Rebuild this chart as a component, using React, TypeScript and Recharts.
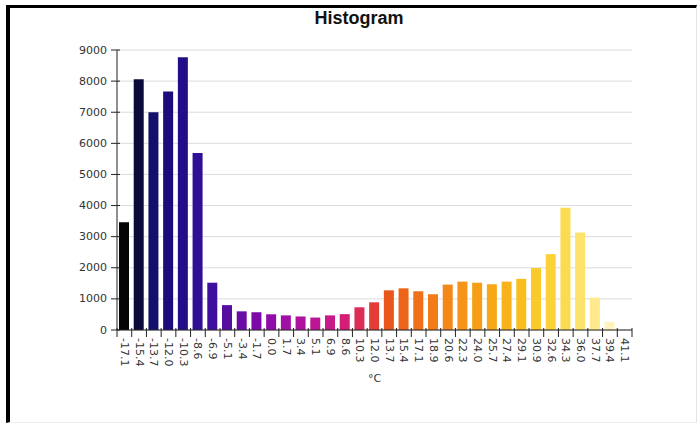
import { BarChart, Bar, Cell, XAxis, YAxis, CartesianGrid } from "recharts";

// bin centres (°C) and counts per bin
const binLabels = [
  "-17.1", "-15.4", "-13.7", "-12.0", "-10.3", "-8.6", "-6.9", "-5.1", "-3.4", "-1.7",
  "0.0", "1.7", "3.4", "5.1", "6.9", "8.6", "10.3", "12.0", "13.7", "15.4",
  "17.1", "18.9", "20.6", "22.3", "24.0", "25.7", "27.4", "29.1", "30.9", "32.6",
  "34.3", "36.0", "37.7", "39.4", "41.1",
];

const counts = [
  3460, 8060, 7000, 7670, 8770, 5690, 1520, 800, 600, 570,
  505, 470, 435, 400, 470, 510, 730, 890, 1275, 1340,
  1245, 1150, 1460, 1555, 1520, 1470, 1555, 1645, 1990, 2440,
  3930, 3130, 1040, 260, 0,
];

const barColors = [
  "#050507", "#0b0a38", "#12106a", "#1a0c7a", "#240d88", "#2e0f96", "#3e0e9c", "#560ea0", "#6a0ca6", "#7c0aa8",
  "#900ca8", "#a010a6", "#b012a0", "#bc1696", "#c81a88", "#d41e76", "#dc2c5a", "#e33c36", "#e8561c", "#ec6418",
  "#ef7018", "#f17c18", "#f38818", "#f59418", "#f69e16", "#f7a816", "#f8b21a", "#f9be1e", "#fac92a", "#fbd338",
  "#fcdc4e", "#fde36c", "#fee98e", "#fff2bc", "#fff8e0",
];

const yTicks = [0, 1000, 2000, 3000, 4000, 5000, 6000, 7000, 8000, 9000];

const data = binLabels.map((bin, i) => ({ bin, count: counts[i] }));

const W = 699;
const H = 425;
const margin = { top: 50, right: 67, bottom: 35, left: 57 };
const yAxisWidth = 60;
const xAxisHeight = 60;
const plotWidth = W - margin.left - margin.right - yAxisWidth;
const band = plotWidth / binLabels.length;

const font = "'DejaVu Sans', Verdana, sans-serif";

const YTick = (props: any) => {
  const { x, y, payload } = props;
  return (
    <g>
      <line x1={x - 4} x2={x + 5} y1={y} y2={y} stroke="#222" />
      <text
        x={x - 8}
        y={y}
        textAnchor="end"
        dominantBaseline="central"
        fontSize={11}
        fontFamily={font}
        fill="#333"
      >
        {payload.value}
      </text>
    </g>
  );
};

const XTick = (props: any) => {
  const { x, y, payload } = props;
  const last = payload.value === binLabels[binLabels.length - 1];
  return (
    <g>
      <line x1={x - band / 2} x2={x - band / 2} y1={y - 4} y2={y + 5} stroke="#222" />
      {last && <line x1={x + band / 2} x2={x + band / 2} y1={y - 4} y2={y + 5} stroke="#222" />}
      <text
        transform={`translate(${x},${y + 6}) rotate(90)`}
        textAnchor="start"
        dominantBaseline="central"
        fontSize={11}
        fontFamily={font}
        fill="#333"
      >
        {payload.value}
      </text>
    </g>
  );
};

export default function App() {
  return (
    <div style={{ position: "absolute", left: 0, top: 0, width: W, height: H, background: "#fff" }}>
      {/* frame */}
      <div
        style={{
          position: "absolute",
          left: 6,
          top: 5,
          width: 686,
          height: 414,
          borderTop: "3px solid #000",
          borderLeft: "4px solid #000",
          borderRight: "1px solid #e4e4e4",
          borderBottom: "1px solid #eee",
        }}
      />
      <div
        style={{
          position: "absolute",
          left: 259,
          width: 200,
          top: 8,
          textAlign: "center",
          fontFamily: "'Liberation Sans', Arial, sans-serif",
          fontWeight: "bold",
          fontSize: 18,
          color: "#111",
        }}
      >
        Histogram
      </div>
      <div style={{ position: "absolute", left: 0, top: 0 }}>
        <BarChart width={W} height={H} data={data} margin={margin}>
          <CartesianGrid vertical={false} stroke="#dcdcdc" />
          <XAxis
            dataKey="bin"
            interval={0}
            height={xAxisHeight}
            tickSize={0}
            tickLine={false}
            axisLine={{ stroke: "#222" }}
            tick={<XTick />}
            label={{
              value: "°C",
              position: "insideBottom",
              offset: 8,
              fontSize: 11,
              fontFamily: font,
              fill: "#333",
            }}
          />
          <YAxis
            width={yAxisWidth}
            domain={[0, 9000]}
            ticks={yTicks}
            tickSize={0}
            tickLine={false}
            axisLine={{ stroke: "#222" }}
            tick={<YTick />}
          />
          <YAxis
            yAxisId="right"
            orientation="right"
            width={0}
            tick={false}
            tickLine={false}
            axisLine={{ stroke: "#dcdcdc" }}
          />
          <Bar dataKey="count" barSize={10} isAnimationActive={false}>
            {data.map((d, i) => (
              <Cell key={d.bin} fill={barColors[i]} />
            ))}
          </Bar>
        </BarChart>
      </div>
    </div>
  );
}
